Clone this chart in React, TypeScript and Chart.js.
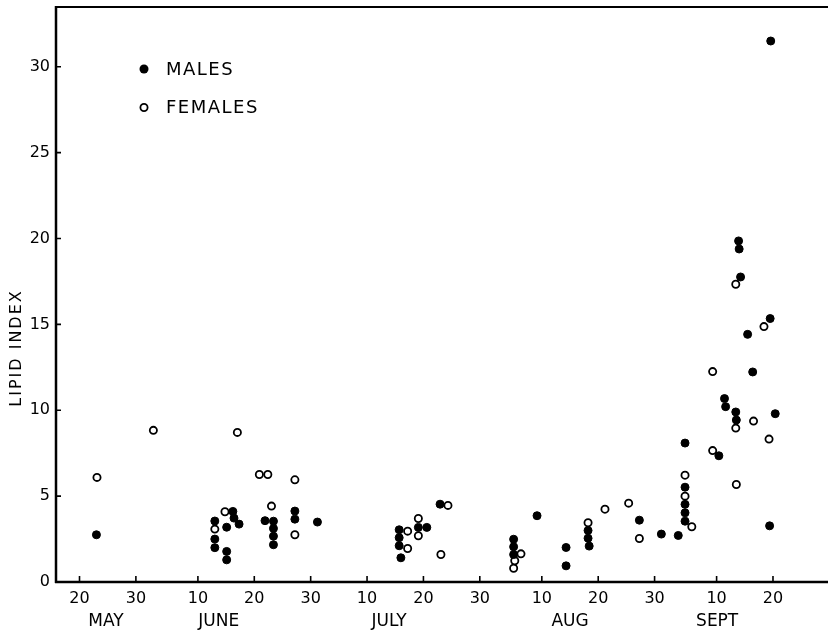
import React, { useEffect, useRef } from 'react';
import { Chart, registerables } from 'chart.js';

Chart.register(...registerables);

// x values are days after May 1 (May 20 = 19, June 10 = 40, July 10 = 70, Aug 10 = 101, Sept 10 = 132)
const maleDay = [
  22.0,
  43.0, 43.0, 43.0,
  45.1, 45.1, 45.1,
  46.2, 46.4, 47.3,
  51.9, 53.4, 53.4, 53.4, 53.4,
  57.2, 57.2, 61.2,
  75.7, 75.7, 75.7, 76.0,
  79.1, 80.6, 82.95,
  96.0, 96.0, 96.0, 100.15,
  105.3, 105.3,
  109.2, 109.2, 109.4,
  118.3, 122.2, 125.2,
  126.4, 126.4, 126.4, 126.4, 126.4,
  132.4, 133.4, 133.6,
  135.4, 135.5, 135.9, 136.0, 136.25,
  137.5, 138.4, 141.4, 141.5, 141.6, 142.4,
];
const maleLipid = [
  2.75,
  3.55, 2.5, 2.0,
  3.19, 1.78, 1.29,
  4.11, 3.72, 3.37,
  3.57, 3.54, 3.12, 2.67, 2.17,
  4.13, 3.66, 3.49,
  3.04, 2.58, 2.11, 1.41,
  3.18, 3.18, 4.53,
  2.49, 2.05, 1.6, 3.86,
  2.01, 0.94,
  3.0, 2.55, 2.09,
  3.6, 2.79, 2.71,
  3.54, 4.03, 4.52, 5.52, 8.09,
  7.35, 10.68, 10.21,
  9.9, 9.43, 19.86, 19.39, 17.76,
  14.42, 12.23, 3.27, 15.34, 31.5, 9.8,
];

const femaleDay = [
  22.1, 32.1,
  43.0, 44.8, 47.0,
  50.9, 52.4, 53.05,
  57.2, 57.2,
  77.2, 77.2, 79.1, 79.1,
  83.1, 84.35,
  96.0, 96.2, 97.3,
  109.2, 112.2, 116.4, 118.3,
  126.4, 126.4, 127.6,
  131.3, 131.3,
  135.4, 135.4, 135.5,
  138.55, 140.4, 141.3,
];
const femaleLipid = [
  6.09, 8.83,
  3.08, 4.09, 8.71,
  6.26, 6.26, 4.42,
  5.95, 2.75,
  2.96, 1.95, 3.7, 2.69,
  1.6, 4.46,
  0.8, 1.24, 1.64,
  3.45, 4.24, 4.59, 2.53,
  5.0, 6.22, 3.22,
  12.25, 7.65,
  17.34, 8.96, 5.68,
  9.37, 14.87, 8.32,
];

const xTickDays = [19, 29, 40, 50, 60, 70, 80, 90, 101, 111, 121, 132, 142];
const xTickLabels = ['20', '30', '10', '20', '30', '10', '20', '30', '10', '20', '30', '10', '20'];
const monthDays = [23.7, 43.7, 73.9, 106.0, 132.1];
const monthLabels = ['MAY', 'JUNE', 'JULY', 'AUG', 'SEPT'];
const yTicks = [0, 5, 10, 15, 20, 25, 30];
const seriesNames = ['MALES', 'FEMALES'];
const yTitle = 'LIPID INDEX';

const FONT = "'DejaVu Sans', sans-serif";

const framePlugin = {
  id: 'frame',
  afterDatasetsDraw(chart: any) {
    const { ctx, chartArea, scales } = chart;
    const { left, top, bottom } = chartArea;
    ctx.save();
    ctx.strokeStyle = '#000';
    ctx.lineCap = 'butt';
    // axes lines
    ctx.lineWidth = 2.5;
    ctx.beginPath();
    ctx.moveTo(left, top - 1);
    ctx.lineTo(left, bottom + 1);
    ctx.moveTo(left - 1, bottom);
    ctx.lineTo(chart.width, bottom);
    ctx.stroke();
    ctx.lineWidth = 2;
    ctx.beginPath();
    ctx.moveTo(left, top);
    ctx.lineTo(chart.width, top);
    ctx.stroke();
    // inward tick marks
    ctx.lineWidth = 1.6;
    ctx.beginPath();
    scales.x.ticks.forEach((t: any) => {
      const px = scales.x.getPixelForValue(t.value);
      ctx.moveTo(px, bottom);
      ctx.lineTo(px, bottom - 6);
    });
    scales.y.ticks.forEach((t: any) => {
      const py = scales.y.getPixelForValue(t.value);
      ctx.moveTo(left, py);
      ctx.lineTo(left + 5, py);
    });
    ctx.stroke();

    // legend
    ctx.fillStyle = '#000';
    ctx.font = `18px ${FONT}`;
    (ctx as any).letterSpacing = '1.5px';
    ctx.textAlign = 'left';
    ctx.textBaseline = 'middle';
    ctx.beginPath();
    ctx.arc(144, 69, 4.5, 0, Math.PI * 2);
    ctx.fill();
    ctx.fillText(seriesNames[0], 166, 70);
    ctx.beginPath();
    ctx.lineWidth = 1.8;
    ctx.arc(144, 107.5, 3.6, 0, Math.PI * 2);
    ctx.stroke();
    ctx.fillText(seriesNames[1], 166, 108);

    // y axis title
    ctx.save();
    ctx.translate(17, 348);
    ctx.rotate(-Math.PI / 2);
    ctx.font = `16px ${FONT}`;
    (ctx as any).letterSpacing = '2px';
    ctx.textAlign = 'center';
    ctx.textBaseline = 'middle';
    ctx.fillText(yTitle, 0, 0);
    ctx.restore();
    ctx.restore();
  },
};

const noPadH = (h: number) => (scale: any) => {
  scale.height = h;
  scale.paddingLeft = 0;
  scale.paddingRight = 0;
};

export default function App() {
  const ref = useRef<HTMLCanvasElement | null>(null);

  useEffect(() => {
    if (!ref.current) return;
    const chart = new Chart(ref.current, {
      type: 'scatter',
      data: {
        datasets: [
          {
            label: seriesNames[0],
            data: maleDay.map((d, i) => ({ x: d, y: maleLipid[i] })),
            backgroundColor: '#000',
            borderColor: '#000',
            borderWidth: 1,
            pointRadius: 4,
            pointHoverRadius: 4,
          },
          {
            label: seriesNames[1],
            data: femaleDay.map((d, i) => ({ x: d, y: femaleLipid[i] })),
            backgroundColor: '#fff',
            borderColor: '#000',
            borderWidth: 1.8,
            pointRadius: 3.6,
            pointHoverRadius: 3.6,
          },
        ],
      },
      options: {
        animation: false,
        responsive: false,
        devicePixelRatio: 1,
        layout: { padding: { top: 7, right: 1, left: 0, bottom: 0 } },
        plugins: {
          legend: { display: false },
          tooltip: { enabled: false },
          title: { display: false },
        },
        scales: {
          x: {
            type: 'linear',
            position: 'bottom',
            min: 14.83,
            max: 150.8,
            grid: { display: false, drawTicks: false },
            border: { display: false },
            afterBuildTicks: (scale: any) => {
              scale.ticks = xTickDays.map((v) => ({ value: v }));
            },
            afterFit: noPadH(28),
            ticks: {
              autoSkip: false,
              maxRotation: 0,
              padding: 7,
              color: '#000',
              font: { family: FONT, size: 16 },
              callback: (_v: any, i: number) => xTickLabels[i],
            },
          },
          month: {
            type: 'linear',
            position: 'bottom',
            min: 14.83,
            max: 150.8,
            grid: { display: false, drawTicks: false },
            border: { display: false },
            afterBuildTicks: (scale: any) => {
              scale.ticks = monthDays.map((v) => ({ value: v }));
            },
            afterFit: noPadH(22),
            ticks: {
              autoSkip: false,
              maxRotation: 0,
              padding: 1,
              color: '#000',
              font: { family: FONT, size: 17 },
              callback: (_v: any, i: number) => monthLabels[i],
            },
          },
          y: {
            type: 'linear',
            min: 0,
            max: 33.48,
            grid: { display: false, drawTicks: false },
            border: { display: false },
            afterBuildTicks: (scale: any) => {
              scale.ticks = yTicks.map((v) => ({ value: v }));
            },
            afterFit: (scale: any) => {
              scale.width = 56;
              scale.paddingTop = 0;
              scale.paddingBottom = 0;
            },
            ticks: {
              padding: 6,
              color: '#000',
              font: { family: FONT, size: 16 },
            },
          },
        },
      },
      plugins: [framePlugin],
    });
    return () => chart.destroy();
  }, []);

  return (
    <div style={{ position: 'absolute', left: 0, top: 0, width: 828, height: 632, background: '#fff' }}>
      <canvas ref={ref} width={828} height={632} />
    </div>
  );
}
